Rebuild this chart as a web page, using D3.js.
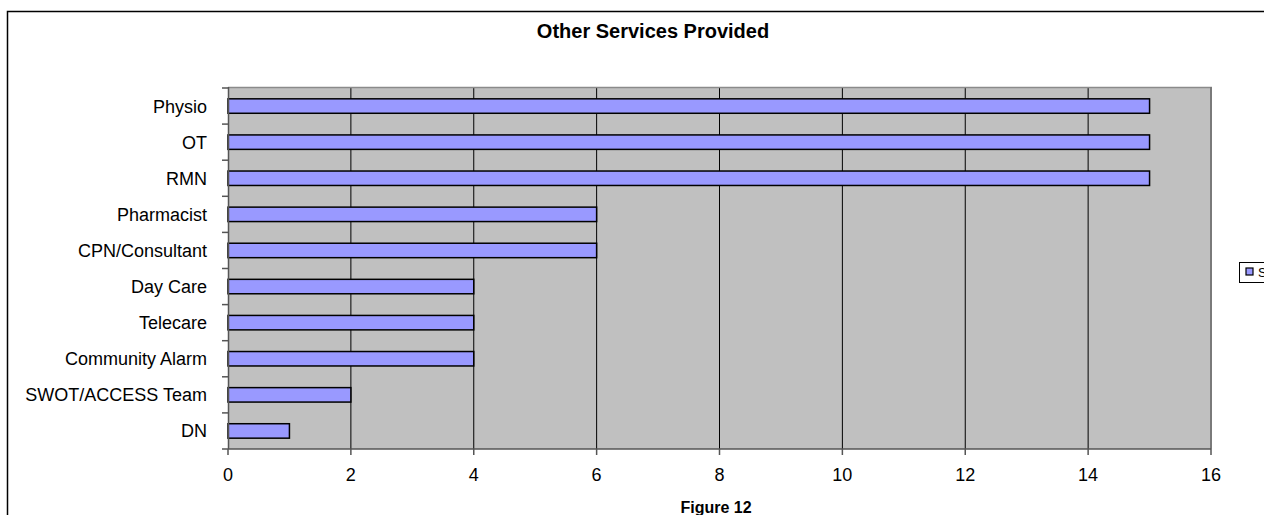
<!DOCTYPE html>
<html>
<head>
<meta charset="utf-8">
<script src="https://cdn.jsdelivr.net/npm/d3@7"></script>
<style>
  html, body { margin: 0; padding: 0; background: #fff; }
  svg { display: block; font-family: "Liberation Sans", Arial, sans-serif; }
</style>
</head>
<body>
<svg id="chart" width="1264" height="515"></svg>
<script>
// Services and the number of respondents providing each one
const categories = ["Physio", "OT", "RMN", "Pharmacist", "CPN/Consultant",
  "Day Care", "Telecare", "Community Alarm", "SWOT/ACCESS Team", "DN"];
const values = [15, 15, 15, 6, 6, 4, 4, 4, 2, 1];
const xTicks = [0, 2, 4, 6, 8, 10, 12, 14, 16];
const seriesName = "Series1";
const titleText = "Other Services Provided";
const captionText = "Figure 12";

const svg = d3.select("#chart");

// outer chart border (runs past the right and bottom edges)
svg.append("rect")
  .attr("x", 7.5).attr("y", 11.5)
  .attr("width", 1300).attr("height", 560)
  .attr("fill", "#fff").attr("stroke", "#000").attr("stroke-width", 1.5);

const plot = { left: 228, top: 88, right: 1211, bottom: 449 };

const x = d3.scaleLinear().domain([0, 16]).range([plot.left, plot.right]);
const y = d3.scaleBand().domain(categories).range([plot.top, plot.bottom]).paddingInner(0.6).paddingOuter(0.3);

// plot background
svg.append("rect")
  .attr("x", plot.left).attr("y", plot.top)
  .attr("width", plot.right - plot.left).attr("height", plot.bottom - plot.top)
  .attr("fill", "#c0c0c0");

// vertical gridlines
svg.append("g").selectAll("line")
  .data(xTicks.filter(d => d > 0 && d < 16))
  .join("line")
  .attr("x1", d => x(d)).attr("x2", d => x(d))
  .attr("y1", plot.top).attr("y2", plot.bottom)
  .attr("stroke", "#000").attr("stroke-width", 1);

// plot frame: top and right edges
svg.append("line")
  .attr("x1", plot.left).attr("x2", plot.right + 1)
  .attr("y1", plot.top - 0.5).attr("y2", plot.top - 0.5)
  .attr("stroke", "#8a8a8a").attr("stroke-width", 1.5);
svg.append("line")
  .attr("x1", plot.right).attr("x2", plot.right)
  .attr("y1", plot.top - 1).attr("y2", plot.bottom)
  .attr("stroke", "#7a7a7a").attr("stroke-width", 2);

// bars
svg.append("g").selectAll("rect")
  .data(categories.map((c, i) => ({ c, v: values[i] })))
  .join("rect")
  .attr("x", x(0))
  .attr("y", d => y(d.c))
  .attr("width", d => x(d.v) - x(0))
  .attr("height", y.bandwidth())
  .attr("fill", "#9999ff")
  .attr("stroke", "#000").attr("stroke-width", 1.5);

// category axis
const step = y.step();
const yAxis = svg.append("g");
yAxis.append("line")
  .attr("x1", plot.left + 0.5).attr("x2", plot.left + 0.5)
  .attr("y1", plot.top - 1).attr("y2", plot.bottom)
  .attr("stroke", "#555").attr("stroke-width", 1.5);
yAxis.selectAll("line.tick")
  .data(d3.range(categories.length + 1))
  .join("line").attr("class", "tick")
  .attr("x1", plot.left - 6).attr("x2", plot.left)
  .attr("y1", i => plot.top + i * step).attr("y2", i => plot.top + i * step)
  .attr("stroke", "#555").attr("stroke-width", 1.5);
yAxis.selectAll("text")
  .data(categories)
  .join("text")
  .attr("x", 207)
  .attr("y", d => y(d) + y.bandwidth() / 2)
  .attr("dy", "0.36em")
  .attr("text-anchor", "end")
  .attr("font-size", 18)
  .attr("fill", "#000")
  .text(d => d);

// value axis
const xAxis = svg.append("g");
xAxis.append("line")
  .attr("x1", plot.left).attr("x2", plot.right)
  .attr("y1", plot.bottom).attr("y2", plot.bottom)
  .attr("stroke", "#555").attr("stroke-width", 1.5);
xAxis.selectAll("line.tick")
  .data(xTicks)
  .join("line").attr("class", "tick")
  .attr("x1", d => x(d)).attr("x2", d => x(d))
  .attr("y1", plot.bottom).attr("y2", plot.bottom + 6)
  .attr("stroke", "#555").attr("stroke-width", 1.5);
xAxis.selectAll("text")
  .data(xTicks)
  .join("text")
  .attr("x", d => x(d))
  .attr("y", 481)
  .attr("text-anchor", "middle")
  .attr("font-size", 18)
  .attr("fill", "#000")
  .text(d => d);

// title
svg.append("text")
  .attr("x", 653).attr("y", 38)
  .attr("text-anchor", "middle")
  .attr("font-size", 20).attr("font-weight", "bold")
  .text(titleText);

// caption below the axis
svg.append("text")
  .attr("x", 716).attr("y", 513)
  .attr("text-anchor", "middle")
  .attr("font-size", 16).attr("font-weight", "bold")
  .text(captionText);

// legend (clipped by the right edge)
const legend = svg.append("g");
legend.append("rect")
  .attr("x", 1239.5).attr("y", 262.5)
  .attr("width", 60).attr("height", 20)
  .attr("fill", "#fff").attr("stroke", "#000").attr("stroke-width", 1);
legend.append("rect")
  .attr("x", 1246).attr("y", 268)
  .attr("width", 7).attr("height", 7)
  .attr("fill", "#9999ff").attr("stroke", "#000").attr("stroke-width", 1.2);
legend.append("text")
  .attr("x", 1258).attr("y", 277)
  .attr("font-size", 13)
  .text(seriesName);
</script>
</body>
</html>
